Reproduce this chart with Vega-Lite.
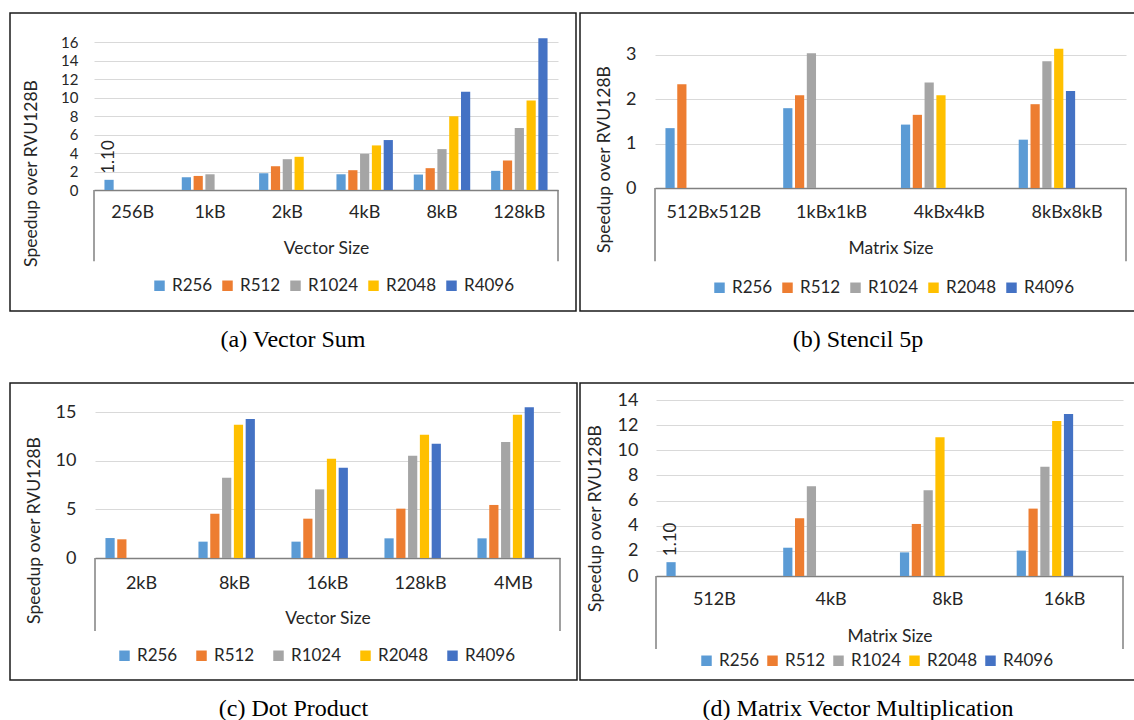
{
  "$schema": "https://vega.github.io/schema/vega-lite/v6.json",
  "background": "white",
  "padding": {"left": 9, "top": 12, "right": 0, "bottom": 0},
  "datasets": {
    "a": [
      {"size": "256B", "res": "R256", "v": 1.10, "lbl": "1.10"},
      {"size": "1kB", "res": "R256", "v": 1.38},
      {"size": "1kB", "res": "R512", "v": 1.52},
      {"size": "1kB", "res": "R1024", "v": 1.70},
      {"size": "2kB", "res": "R256", "v": 1.81},
      {"size": "2kB", "res": "R512", "v": 2.57},
      {"size": "2kB", "res": "R1024", "v": 3.33},
      {"size": "2kB", "res": "R2048", "v": 3.59},
      {"size": "4kB", "res": "R256", "v": 1.70},
      {"size": "4kB", "res": "R512", "v": 2.14},
      {"size": "4kB", "res": "R1024", "v": 3.91},
      {"size": "4kB", "res": "R2048", "v": 4.82},
      {"size": "4kB", "res": "R4096", "v": 5.40},
      {"size": "8kB", "res": "R256", "v": 1.67},
      {"size": "8kB", "res": "R512", "v": 2.36},
      {"size": "8kB", "res": "R1024", "v": 4.42},
      {"size": "8kB", "res": "R2048", "v": 7.97},
      {"size": "8kB", "res": "R4096", "v": 10.62},
      {"size": "128kB", "res": "R256", "v": 2.07},
      {"size": "128kB", "res": "R512", "v": 3.19},
      {"size": "128kB", "res": "R1024", "v": 6.70},
      {"size": "128kB", "res": "R2048", "v": 9.67},
      {"size": "128kB", "res": "R4096", "v": 16.40}
    ],
    "b": [
      {"size": "512Bx512B", "res": "R256", "v": 1.35},
      {"size": "512Bx512B", "res": "R512", "v": 2.34},
      {"size": "1kBx1kB", "res": "R256", "v": 1.80},
      {"size": "1kBx1kB", "res": "R512", "v": 2.09},
      {"size": "1kBx1kB", "res": "R1024", "v": 3.04},
      {"size": "4kBx4kB", "res": "R256", "v": 1.43},
      {"size": "4kBx4kB", "res": "R512", "v": 1.65},
      {"size": "4kBx4kB", "res": "R1024", "v": 2.38},
      {"size": "4kBx4kB", "res": "R2048", "v": 2.09},
      {"size": "8kBx8kB", "res": "R256", "v": 1.09},
      {"size": "8kBx8kB", "res": "R512", "v": 1.89},
      {"size": "8kBx8kB", "res": "R1024", "v": 2.86},
      {"size": "8kBx8kB", "res": "R2048", "v": 3.14},
      {"size": "8kBx8kB", "res": "R4096", "v": 2.19}
    ],
    "c": [
      {"size": "2kB", "res": "R256", "v": 2.05},
      {"size": "2kB", "res": "R512", "v": 1.92},
      {"size": "8kB", "res": "R256", "v": 1.68},
      {"size": "8kB", "res": "R512", "v": 4.55},
      {"size": "8kB", "res": "R1024", "v": 8.25},
      {"size": "8kB", "res": "R2048", "v": 13.70},
      {"size": "8kB", "res": "R4096", "v": 14.28},
      {"size": "16kB", "res": "R256", "v": 1.68},
      {"size": "16kB", "res": "R512", "v": 4.04},
      {"size": "16kB", "res": "R1024", "v": 7.05},
      {"size": "16kB", "res": "R2048", "v": 10.20},
      {"size": "16kB", "res": "R4096", "v": 9.28},
      {"size": "128kB", "res": "R256", "v": 2.02},
      {"size": "128kB", "res": "R512", "v": 5.07},
      {"size": "128kB", "res": "R1024", "v": 10.51},
      {"size": "128kB", "res": "R2048", "v": 12.67},
      {"size": "128kB", "res": "R4096", "v": 11.75},
      {"size": "4MB", "res": "R256", "v": 2.02},
      {"size": "4MB", "res": "R512", "v": 5.45},
      {"size": "4MB", "res": "R1024", "v": 11.92},
      {"size": "4MB", "res": "R2048", "v": 14.73},
      {"size": "4MB", "res": "R4096", "v": 15.48}
    ],
    "d": [
      {"size": "512B", "res": "R256", "v": 1.10, "lbl": "1.10"},
      {"size": "4kB", "res": "R256", "v": 2.25},
      {"size": "4kB", "res": "R512", "v": 4.59},
      {"size": "4kB", "res": "R1024", "v": 7.13},
      {"size": "8kB", "res": "R256", "v": 1.88},
      {"size": "8kB", "res": "R512", "v": 4.14},
      {"size": "8kB", "res": "R1024", "v": 6.82},
      {"size": "8kB", "res": "R2048", "v": 11.03},
      {"size": "16kB", "res": "R256", "v": 2.02},
      {"size": "16kB", "res": "R512", "v": 5.36},
      {"size": "16kB", "res": "R1024", "v": 8.70},
      {"size": "16kB", "res": "R2048", "v": 12.33},
      {"size": "16kB", "res": "R4096", "v": 12.89}
    ]
  },
  "vconcat": [
    {
      "hconcat": [
        {
          "width": 566, "height": 298,
          "title": {"text": "(a) Vector Sum"},
          "data": {"name": "a"},
          "layer": [
            {
              "mark": {"type": "bar"},
              "encoding": {
                "x": {"field": "size", "type": "nominal", "scale": {"domain": ["256B", "1kB", "2kB", "4kB", "8kB", "128kB"], "range": [84, 548], "paddingInner": 0, "paddingOuter": 0},
                  "axis": {"title": "Vector Size", "offset": -121, "labelPadding": 13, "titlePadding": 18, "labelAngle": 0, "domainColor": "#808080", "domainWidth": 1.5, "grid": false}},
                "xOffset": {"field": "res", "type": "nominal", "scale": {"domain": ["R256", "R512", "R1024", "R2048", "R4096"], "paddingInner": 0.22, "paddingOuter": 0.885}},
                "y": {"field": "v", "type": "quantitative", "scale": {"domain": [0, 16], "range": [177, 29], "nice": false},
                  "axis": {"title": "Speedup over RVU128B", "values": [0, 2, 4, 6, 8, 10, 12, 14, 16], "format": "d", "labelOverlap": false, "labelFontSize": 15, "titleY": 160, "offset": -84, "domain": false, "grid": true, "gridColor": "#d9d9d9", "labelPadding": 16, "titlePadding": 20}},
                "color": {"field": "res", "type": "nominal", "scale": {"domain": ["R256", "R512", "R1024", "R2048", "R4096"], "range": ["#5B9BD5", "#ED7D31", "#A5A5A5", "#FFC000", "#4472C4"]},
                  "legend": {"title": null, "orient": "none", "legendX": 141, "legendY": 264, "direction": "horizontal", "columnPadding": 6}}
              }
            },
            {
              "transform": [{"filter": "datum.lbl != null"}],
              "mark": {"type": "text", "angle": 270, "align": "left", "baseline": "middle", "dx": 6, "fontSize": 17, "font": "Lato", "color": "#262626"},
              "encoding": {
                "x": {"field": "size", "type": "nominal",
                  "axis": {"title": "Vector Size", "offset": -121, "labelPadding": 13, "titlePadding": 18, "labelAngle": 0, "domainColor": "#808080", "domainWidth": 1.5, "grid": false}},
                "xOffset": {"field": "res", "type": "nominal"},
                "y": {"field": "v", "type": "quantitative",
                  "axis": {"title": "Speedup over RVU128B", "values": [0, 2, 4, 6, 8, 10, 12, 14, 16], "format": "d", "labelOverlap": false, "labelFontSize": 15, "titleY": 160, "offset": -84, "domain": false, "grid": true, "gridColor": "#d9d9d9", "labelPadding": 16, "titlePadding": 20}},
                "text": {"field": "lbl"}
              }
            },
            {
              "data": {"values": [{}]},
              "mark": {"type": "rule", "color": "#808080", "strokeWidth": 1.5},
              "encoding": {
                "x": {"datum": "256B", "type": "nominal", "bandPosition": 0,
                  "axis": {"title": "Vector Size", "offset": -121, "labelPadding": 13, "titlePadding": 18, "labelAngle": 0, "domainColor": "#808080", "domainWidth": 1.5, "grid": false}},
                "y": {"datum": 0, "type": "quantitative",
                  "axis": {"title": "Speedup over RVU128B", "values": [0, 2, 4, 6, 8, 10, 12, 14, 16], "format": "d", "labelOverlap": false, "labelFontSize": 15, "titleY": 160, "offset": -84, "domain": false, "grid": true, "gridColor": "#d9d9d9", "labelPadding": 16, "titlePadding": 20}},
                "y2": {"datum": -7.7}}
            },
            {
              "data": {"values": [{}]},
              "mark": {"type": "rule", "color": "#808080", "strokeWidth": 1.5},
              "encoding": {
                "x": {"datum": "128kB", "type": "nominal", "bandPosition": 1,
                  "axis": {"title": "Vector Size", "offset": -121, "labelPadding": 13, "titlePadding": 18, "labelAngle": 0, "domainColor": "#808080", "domainWidth": 1.5, "grid": false}},
                "y": {"datum": 0, "type": "quantitative",
                  "axis": {"title": "Speedup over RVU128B", "values": [0, 2, 4, 6, 8, 10, 12, 14, 16], "format": "d", "labelOverlap": false, "labelFontSize": 15, "titleY": 160, "offset": -84, "domain": false, "grid": true, "gridColor": "#d9d9d9", "labelPadding": 16, "titlePadding": 20}},
                "y2": {"datum": -7.7}}
            }
          ]
        },
        {
          "width": 556, "height": 298,
          "title": {"text": "(b) Stencil 5p"},
          "data": {"name": "b"},
          "layer": [
            {
              "mark": {"type": "bar"},
              "encoding": {
                "x": {"field": "size", "type": "nominal", "scale": {"domain": ["512Bx512B", "1kBx1kB", "4kBx4kB", "8kBx8kB"], "range": [75, 546], "paddingInner": 0, "paddingOuter": 0},
                  "axis": {"title": "Matrix Size", "offset": -123, "labelPadding": 15, "titlePadding": 18, "labelAngle": 0, "domainColor": "#808080", "domainWidth": 1.5, "grid": false}},
                "xOffset": {"field": "res", "type": "nominal", "scale": {"domain": ["R256", "R512", "R1024", "R2048", "R4096"], "paddingInner": 0.17, "paddingOuter": 0.855}},
                "y": {"field": "v", "type": "quantitative", "scale": {"domain": [0, 3.5], "range": [175, 19.8], "nice": false},
                  "axis": {"title": "Speedup over RVU128B", "values": [0, 1, 2, 3], "format": "d", "labelOverlap": false, "titleY": 146, "offset": -75, "domain": false, "grid": true, "gridColor": "#d9d9d9", "labelPadding": 19, "titlePadding": 12}},
                "color": {"field": "res", "type": "nominal", "scale": {"domain": ["R256", "R512", "R1024", "R2048", "R4096"], "range": ["#5B9BD5", "#ED7D31", "#A5A5A5", "#FFC000", "#4472C4"]},
                  "legend": {"title": null, "orient": "none", "legendX": 131, "legendY": 266, "direction": "horizontal", "columnPadding": 6}}
              }
            },
            {
              "data": {"values": [{}]},
              "mark": {"type": "rule", "color": "#808080", "strokeWidth": 1.5},
              "encoding": {"x": {"datum": "512Bx512B", "type": "nominal", "bandPosition": 0}, "y": {"datum": 0, "type": "quantitative"}, "y2": {"datum": -1.65}}
            },
            {
              "data": {"values": [{}]},
              "mark": {"type": "rule", "color": "#808080", "strokeWidth": 1.5},
              "encoding": {"x": {"datum": "8kBx8kB", "type": "nominal", "bandPosition": 1}, "y": {"datum": 0, "type": "quantitative"}, "y2": {"datum": -1.65}}
            }
          ]
        }
      ],
      "spacing": 2,
      "resolve": {"scale": {"color": "independent"}, "legend": {"color": "independent"}}
    },
    {
      "hconcat": [
        {
          "width": 567, "height": 297,
          "title": {"text": "(c) Dot Product"},
          "data": {"name": "c"},
          "layer": [
            {
              "mark": {"type": "bar"},
              "encoding": {
                "x": {"field": "size", "type": "nominal", "scale": {"domain": ["2kB", "8kB", "16kB", "128kB", "4MB"], "range": [85, 550], "paddingInner": 0, "paddingOuter": 0},
                  "axis": {"title": "Vector Size", "offset": -122, "labelPadding": 16, "titlePadding": 17, "labelAngle": 0, "domainColor": "#808080", "domainWidth": 1.5, "grid": false}},
                "xOffset": {"field": "res", "type": "nominal", "scale": {"domain": ["R256", "R512", "R1024", "R2048", "R4096"], "paddingInner": 0.22, "paddingOuter": 0.885}},
                "y": {"field": "v", "type": "quantitative", "scale": {"domain": [0, 15], "range": [175, 29], "nice": false},
                  "axis": {"title": "Speedup over RVU128B", "values": [0, 5, 10, 15], "format": "d", "labelOverlap": false, "titleY": 147, "offset": -85, "domain": false, "grid": true, "gridColor": "#d9d9d9", "labelPadding": 19, "titlePadding": 12}},
                "color": {"field": "res", "type": "nominal", "scale": {"domain": ["R256", "R512", "R1024", "R2048", "R4096"], "range": ["#5B9BD5", "#ED7D31", "#A5A5A5", "#FFC000", "#4472C4"]},
                  "legend": {"title": null, "orient": "none", "legendX": 106, "legendY": 264, "direction": "horizontal", "columnPadding": 15}}
              }
            },
            {
              "data": {"values": [{}]},
              "mark": {"type": "rule", "color": "#808080", "strokeWidth": 1.5},
              "encoding": {"x": {"datum": "2kB", "type": "nominal", "bandPosition": 0}, "y": {"datum": 0, "type": "quantitative"}, "y2": {"datum": -7.5}}
            },
            {
              "data": {"values": [{}]},
              "mark": {"type": "rule", "color": "#808080", "strokeWidth": 1.5},
              "encoding": {"x": {"datum": "4MB", "type": "nominal", "bandPosition": 1}, "y": {"datum": 0, "type": "quantitative"}, "y2": {"datum": -7.5}}
            }
          ]
        },
        {
          "width": 556, "height": 297,
          "title": {"text": "(d) Matrix Vector Multiplication"},
          "data": {"name": "d"},
          "layer": [
            {
              "mark": {"type": "bar"},
              "encoding": {
                "x": {"field": "size", "type": "nominal", "scale": {"domain": ["512B", "4kB", "8kB", "16kB"], "range": [76, 543], "paddingInner": 0, "paddingOuter": 0},
                  "axis": {"title": "Matrix Size", "offset": -104, "labelPadding": 14, "titlePadding": 19, "labelAngle": 0, "domainColor": "#808080", "domainWidth": 1.5, "grid": false}},
                "xOffset": {"field": "res", "type": "nominal", "scale": {"domain": ["R256", "R512", "R1024", "R2048", "R4096"], "paddingInner": 0.17, "paddingOuter": 0.855}},
                "y": {"field": "v", "type": "quantitative", "scale": {"domain": [0, 14], "range": [193, 17], "nice": false},
                  "axis": {"title": "Speedup over RVU128B", "values": [0, 2, 4, 6, 8, 10, 12, 14], "format": "d", "labelOverlap": false, "titleY": 135, "offset": -76, "domain": false, "grid": true, "gridColor": "#d9d9d9", "labelPadding": 18, "titlePadding": 13}},
                "color": {"field": "res", "type": "nominal", "scale": {"domain": ["R256", "R512", "R1024", "R2048", "R4096"], "range": ["#5B9BD5", "#ED7D31", "#A5A5A5", "#FFC000", "#4472C4"]},
                  "legend": {"title": null, "orient": "none", "legendX": 118, "legendY": 269, "direction": "horizontal", "columnPadding": 4}}
              }
            },
            {
              "transform": [{"filter": "datum.lbl != null"}],
              "mark": {"type": "text", "angle": 270, "align": "left", "baseline": "middle", "dx": 6, "fontSize": 17, "font": "Lato", "color": "#262626"},
              "encoding": {
                "x": {"field": "size", "type": "nominal"},
                "xOffset": {"field": "res", "type": "nominal"},
                "y": {"field": "v", "type": "quantitative"},
                "text": {"field": "lbl"}
              }
            },
            {
              "data": {"values": [{}]},
              "mark": {"type": "rule", "color": "#808080", "strokeWidth": 1.5},
              "encoding": {"x": {"datum": "512B", "type": "nominal", "bandPosition": 0}, "y": {"datum": 0, "type": "quantitative"}, "y2": {"datum": -5.8}}
            },
            {
              "data": {"values": [{}]},
              "mark": {"type": "rule", "color": "#808080", "strokeWidth": 1.5},
              "encoding": {"x": {"datum": "16kB", "type": "nominal", "bandPosition": 1}, "y": {"datum": 0, "type": "quantitative"}, "y2": {"datum": -5.8}}
            }
          ]
        }
      ],
      "spacing": 1,
      "resolve": {"scale": {"color": "independent"}, "legend": {"color": "independent"}}
    }
  ],
  "spacing": 29,
  "resolve": {"scale": {"color": "independent"}, "legend": {"color": "independent"}},
  "config": {
    "view": {"stroke": "#1a1a1a", "strokeWidth": 1.5},
    "font": "Lato",
    "axis": {"labelFont": "Lato", "titleFont": "Lato", "labelFontSize": 18, "titleFontSize": 17.5, "titleFontWeight": "normal", "labelColor": "#262626", "titleColor": "#262626", "ticks": false, "labelOverlap": false},
    "legend": {"labelFont": "Lato", "labelFontSize": 17, "labelColor": "#262626", "symbolType": "square", "symbolSize": 110, "symbolStrokeWidth": 0, "labelOffset": 4, "padding": 0},
    "title": {"font": "Liberation Serif", "fontSize": 24, "fontWeight": "normal", "color": "#000000", "orient": "bottom", "offset": 17, "anchor": "middle"}
  }
}
